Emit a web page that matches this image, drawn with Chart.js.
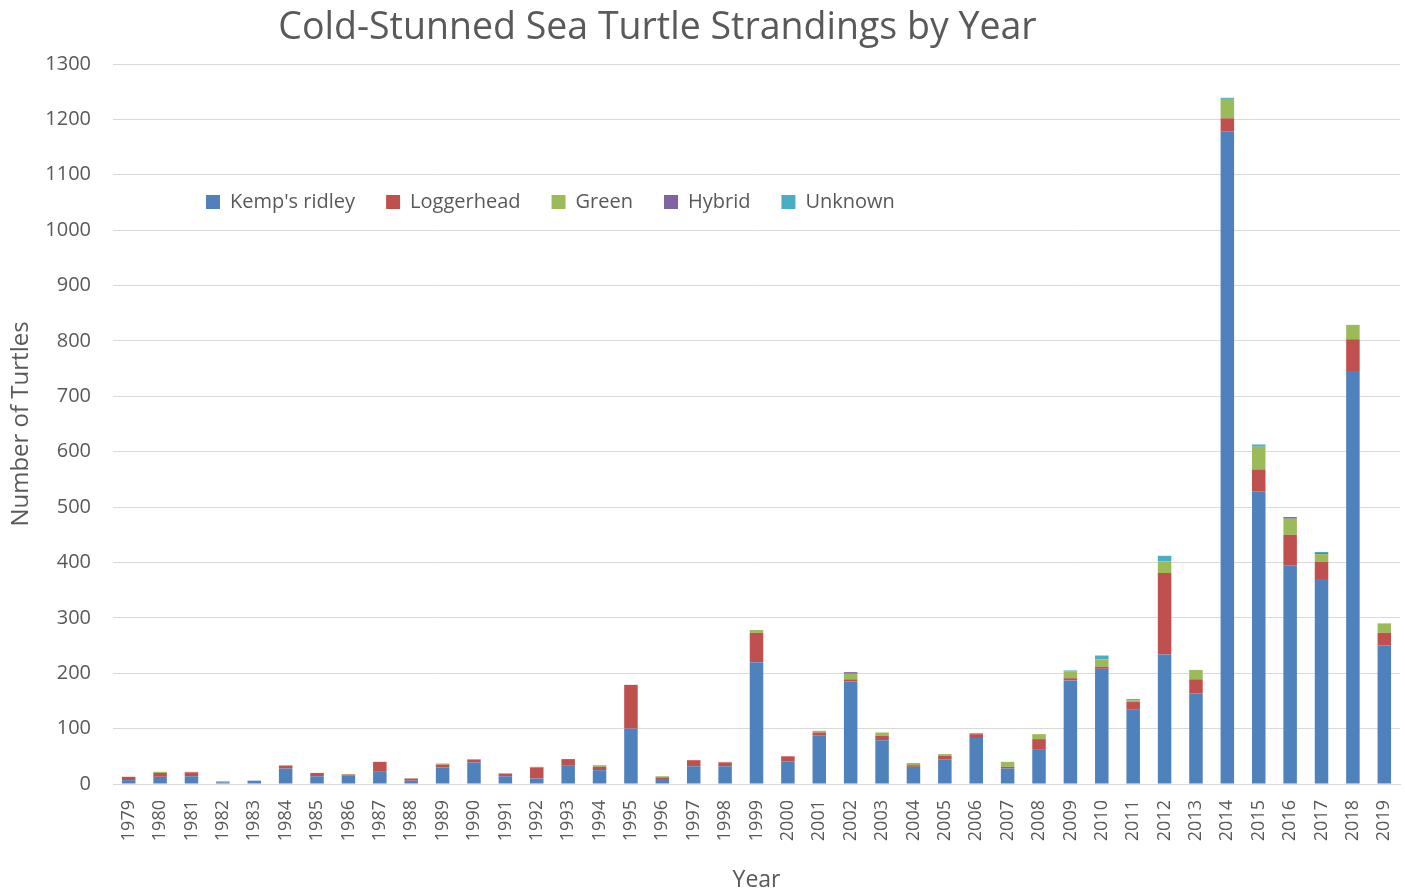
<!DOCTYPE html>
<html lang="en">
<head>
<meta charset="utf-8">
<title>Cold-Stunned Sea Turtle Strandings by Year</title>
<script src="https://cdn.jsdelivr.net/npm/chart.js@4.4.1/dist/chart.umd.min.js"></script>
<style>
  html, body { margin: 0; padding: 0; background: #ffffff; }
  #wrap { position: relative; width: 1405px; height: 892px; }
</style>
</head>
<body>
<div id="wrap"><canvas id="turtleChart"></canvas></div>
<script>
// Datos
const years = ['1979', '1980', '1981', '1982', '1983', '1984', '1985', '1986', '1987', '1988',
    '1989', '1990', '1991', '1992', '1993', '1994', '1995', '1996', '1997', '1998',
    '1999', '2000', '2001', '2002', '2003', '2004', '2005', '2006', '2007', '2008',
    '2009', '2010', '2011', '2012', '2013', '2014', '2015', '2016', '2017', '2018', '2019'];

const kempsRidley = [7, 13, 14, 3, 6, 28, 14, 15, 22, 6,
    30, 39, 14, 10, 34, 25, 100, 9, 32, 32,
    220, 41, 88, 185, 79, 31, 44, 83, 28, 63,
    187, 208, 134, 234, 164, 1178, 528, 395, 370, 744, 250];

const loggerhead = [6, 7, 7, 1, 0, 5, 6, 2, 18, 4,
    5, 5, 5, 20, 11, 6, 79, 3, 11, 7,
    53, 9, 5, 4, 8, 3, 7, 7, 3, 18,
    4, 4, 14, 147, 25, 24, 40, 55, 31, 59, 23];

const green = [0, 2, 1, 1, 0, 1, 0, 1, 0, 0,
    2, 1, 0, 1, 0, 3, 0, 2, 0, 1,
    5, 0, 3, 10, 6, 4, 3, 2, 9, 9,
    12, 13, 3, 21, 17, 35, 41, 29, 14, 26, 17];

const hybrid = [0, 0, 0, 0, 0, 0, 0, 0, 0, 0,
    0, 0, 0, 0, 0, 0, 0, 0, 0, 0,
    0, 0, 0, 3, 0, 0, 0, 0, 0, 0,
    0, 0, 2, 0, 0, 0, 0, 3, 2, 0, 0];

const unknown = [0, 0, 0, 0, 0, 0, 0, 0, 0, 0,
    0, 0, 0, 0, 0, 0, 0, 0, 0, 0,
    0, 0, 0, 0, 0, 0, 0, 0, 0, 0,
    2, 7, 0, 10, 0, 2, 4, 0, 2, 0, 0];

const yTicks = { min: 0, max: 1300, step: 100 };

const textColor = '#595959';
const gridColor = '#d9d9d9';

Chart.defaults.font.family = "'Open Sans', sans-serif";
Chart.defaults.color = textColor;

// Leyenda horizontal dentro del área del gráfico y título desplazado como en el original
const placeBoxes = {
    id: 'placeBoxes',
    beforeUpdate(chart) {
        if (chart.legend) {
            chart.legend.isHorizontal = () => true;
        }
    },
    beforeDraw(chart) {
        if (chart.legend) {
            chart.legend.left = 175;
            chart.legend.top = 161;
        }
        if (chart.titleBlock) {
            chart.titleBlock.left = 0;
            chart.titleBlock.right = 1315;
        }
    }
};

function makeSet(label, data, color) {
    return {
        label: label,
        data: data,
        backgroundColor: color,
        borderWidth: 0,
        barPercentage: 0.43,
        categoryPercentage: 1.0
    };
}

const ctx = document.getElementById('turtleChart').getContext('2d');
const chart = new Chart(ctx, {
    type: 'bar',
    data: {
        labels: years,
        datasets: [
            makeSet("Kemp's ridley", kempsRidley, '#4f81bd'),
            makeSet('Loggerhead', loggerhead, '#c0504d'),
            makeSet('Green', green, '#9bbb59'),
            makeSet('Hybrid', hybrid, '#8064a2'),
            makeSet('Unknown', unknown, '#4bacc6')
        ]
    },
    options: {
        responsive: true,
        maintainAspectRatio: false,
        animation: false,
        layout: { padding: { left: 0, right: 5, top: 0, bottom: 0 } },
        plugins: {
            title: {
                display: true,
                text: 'Cold-Stunned Sea Turtle Strandings by Year',
                color: textColor,
                font: { size: 37.5, weight: 'normal' },
                padding: { top: 5.5, bottom: 13.5 }
            },
            legend: {
                position: 'chartArea',
                align: 'start',
                labels: {
                    boxWidth: 14,
                    boxHeight: 14,
                    padding: 31,
                    color: textColor,
                    font: { size: 20 }
                }
            },
            tooltip: { enabled: false }
        },
        scales: {
            x: {
                stacked: true,
                grid: { display: false, drawTicks: false },
                border: { color: gridColor, width: 1 },
                ticks: {
                    autoSkip: false,
                    minRotation: 90,
                    maxRotation: 90,
                    padding: 16,
                    color: textColor,
                    font: { size: 18 }
                },
                title: {
                    display: true,
                    text: 'Year',
                    color: textColor,
                    font: { size: 23 },
                    padding: { top: 0, bottom: -2 }
                },
                afterFit(scale) {
                    scale.height = 108;
                    scale.paddingRight = 0;
                    scale.paddingLeft = 0;
                }
            },
            y: {
                stacked: true,
                min: yTicks.min,
                max: yTicks.max,
                grid: { color: gridColor, lineWidth: 1, drawTicks: false },
                border: { display: false },
                ticks: {
                    stepSize: yTicks.step,
                    padding: 22,
                    color: textColor,
                    font: { size: 20 },
                    callback: (value) => String(value)
                },
                title: {
                    display: true,
                    text: 'Number of Turtles',
                    color: textColor,
                    font: { size: 24 },
                    padding: { top: 7, bottom: 0 }
                },
                afterFit(scale) { scale.width = 113; }
            }
        }
    },
    plugins: [placeBoxes]
});
</script>
</body>
</html>
